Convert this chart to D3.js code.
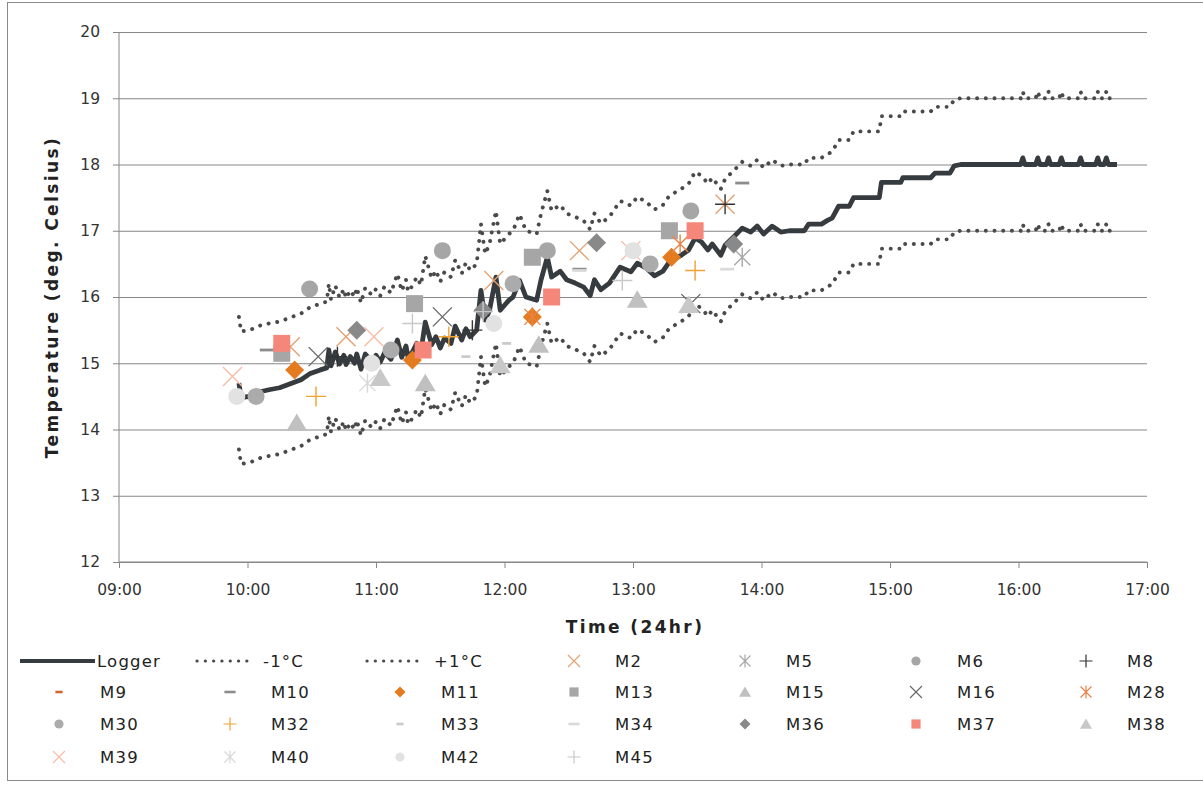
<!DOCTYPE html>
<html><head><meta charset="utf-8">
<script src="https://cdn.jsdelivr.net/npm/d3@7"></script>
<style>
html,body{margin:0;padding:0;background:#fff;}
svg{display:block;font-family:"DejaVu Sans",Verdana,sans-serif;}
</style></head><body>
<svg id="chart" width="1203" height="785"></svg>
<script>
// ---------------- DATA ----------------
const xTickLabels = ["09:00","10:00","11:00","12:00","13:00","14:00","15:00","16:00","17:00"];
const yTickValues = [12,13,14,15,16,17,18,19,20];

const loggerTimes = [
 "09:56","09:57","10:01","10:06","10:10","10:15","10:20","10:25","10:29","10:34",
 "10:37","10:38","10:39","10:41","10:43","10:45","10:46","10:48","10:50","10:51",
 "10:53","10:55","10:58","11:00","11:02","11:04","11:07","11:10","11:12","11:14",
 "11:15","11:17","11:19","11:21","11:23","11:26","11:28","11:30","11:32","11:35",
 "11:37","11:40","11:42","11:44","11:47","11:49","11:51","11:53","11:56","11:58",
 "12:02","12:04","12:07","12:10","12:15","12:17","12:20","12:22","12:26","12:29",
 "12:33","12:37","12:40","12:42","12:45","12:49","12:54","12:59","13:02","13:06",
 "13:10","13:14","13:17","13:22","13:26","13:29","13:32","13:35","13:37","13:41",
 "13:43","13:48","13:51","13:55","13:58","14:01","14:05","14:09","14:13","14:20",
 "14:22","14:28","14:31","14:33","14:36","14:41","14:43","14:55","14:56","15:05",
 "15:06","15:19","15:21","15:28","15:30","15:33","16:01","16:02","16:03","16:08",
 "16:09","16:10","16:13","16:14","16:15","16:19","16:20","16:21","16:28","16:29",
 "16:30","16:36","16:37","16:38","16:40","16:41","16:42","16:46"];
const loggerTemp = [
 14.70,14.48,14.50,14.57,14.60,14.63,14.69,14.75,14.84,14.90,
 14.93,15.20,14.96,15.17,14.99,15.12,14.98,15.10,15.00,15.14,
 14.91,15.14,15.03,15.12,15.02,15.16,15.06,15.35,15.09,15.26,
 15.08,15.17,15.30,15.18,15.62,15.28,15.40,15.23,15.38,15.30,
 15.56,15.35,15.52,15.40,15.50,16.10,15.65,15.80,16.30,15.80,
 15.95,16.00,16.25,16.00,15.95,16.25,16.60,16.30,16.39,16.26,
 16.21,16.15,16.02,16.26,16.11,16.21,16.45,16.38,16.51,16.44,
 16.32,16.39,16.53,16.62,16.71,16.89,16.83,16.71,16.80,16.63,
 16.78,16.94,17.04,16.98,17.07,16.95,17.07,16.98,17.00,17.00,
 17.10,17.10,17.16,17.19,17.37,17.37,17.50,17.50,17.73,17.73,
 17.80,17.80,17.87,17.87,17.98,18.00,18.00,18.10,18.00,18.00,
 18.10,18.00,18.00,18.10,18.00,18.00,18.10,18.00,18.00,18.10,
 18.00,18.00,18.10,18.00,18.00,18.10,18.00,18.00];
const minus1Temp = [
 13.70,13.48,13.50,13.57,13.60,13.63,13.69,13.75,13.84,13.90,
 13.93,14.20,13.96,14.17,13.99,14.12,13.98,14.10,14.00,14.14,
 13.91,14.14,14.03,14.12,14.02,14.16,14.06,14.35,14.09,14.26,
 14.08,14.17,14.30,14.18,14.62,14.28,14.40,14.23,14.38,14.30,
 14.56,14.35,14.52,14.40,14.50,15.10,14.65,14.80,15.30,14.80,
 14.95,15.00,15.25,15.00,14.95,15.25,15.60,15.30,15.39,15.26,
 15.21,15.15,15.02,15.26,15.11,15.21,15.45,15.38,15.51,15.44,
 15.32,15.39,15.53,15.62,15.71,15.89,15.83,15.71,15.80,15.63,
 15.78,15.94,16.04,15.98,16.07,15.95,16.07,15.98,16.00,16.00,
 16.10,16.10,16.16,16.19,16.37,16.37,16.50,16.50,16.73,16.73,
 16.80,16.80,16.87,16.87,16.98,17.00,17.00,17.10,17.00,17.00,
 17.10,17.00,17.00,17.10,17.00,17.00,17.10,17.00,17.00,17.10,
 17.00,17.00,17.10,17.00,17.00,17.10,17.00,17.00];
const plus1Temp = [
 15.70,15.48,15.50,15.57,15.60,15.63,15.69,15.75,15.84,15.90,
 15.93,16.20,15.96,16.17,15.99,16.12,15.98,16.10,16.00,16.14,
 15.91,16.14,16.03,16.12,16.02,16.16,16.06,16.35,16.09,16.26,
 16.08,16.17,16.30,16.18,16.62,16.28,16.40,16.23,16.38,16.30,
 16.56,16.35,16.52,16.40,16.50,17.10,16.65,16.80,17.30,16.80,
 16.95,17.00,17.25,17.00,16.95,17.25,17.60,17.30,17.39,17.26,
 17.21,17.15,17.02,17.26,17.11,17.21,17.45,17.38,17.51,17.44,
 17.32,17.39,17.53,17.62,17.71,17.89,17.83,17.71,17.80,17.63,
 17.78,17.94,18.04,17.98,18.07,17.95,18.07,17.98,18.00,18.00,
 18.10,18.10,18.16,18.19,18.37,18.37,18.50,18.50,18.73,18.73,
 18.80,18.80,18.87,18.87,18.98,19.00,19.00,19.10,19.00,19.00,
 19.10,19.00,19.00,19.10,19.00,19.00,19.10,19.00,19.00,19.10,
 19.00,19.00,19.10,19.00,19.00,19.10,19.00,19.00];

// measurement readings: [time, temperature]
const m2  = [["10:20",15.25],["10:46",15.40],["11:55",16.25],["12:35",16.70],["13:43",17.40]];
const m5  = [["13:51",16.60]];
const m6  = [["10:29",16.12],["11:31",16.70],["12:20",16.70],["13:27",17.30]];
const m8  = [["10:42",15.10],["11:45",15.50],["13:43",17.40]];
const m9  = [["10:04",14.50],["11:07",15.20],["12:04",16.20],["13:08",16.50]];
const m10 = [["10:09",15.20],["12:35",16.42],["13:51",17.72]];
const m11 = [["10:22",14.90],["11:17",15.05],["12:13",15.70],["13:18",16.60]];
const m13 = [["10:16",15.15],["11:18",15.90],["12:13",16.60],["13:17",17.00]];
const m15 = [["10:23",14.10],["11:23",14.70],["12:16",15.28],["13:02",15.96]];
const m16 = [["10:33",15.10],["11:31",15.70],["13:27",15.90]];
const m28 = [["12:13",15.70],["13:22",16.80]];
const m30 = [["10:04",14.50],["11:07",15.20],["12:04",16.20],["13:08",16.50]];
const m32 = [["10:32",14.50],["11:34",15.40],["13:29",16.40]];
const m33 = [["11:42",15.10],["12:01",15.30]];
const m34 = [["12:35",16.40],["13:44",16.42]];
const m36 = [["10:51",15.50],["11:50",15.80],["12:43",16.82],["13:47",16.80]];
const m37 = [["10:16",15.30],["11:22",15.20],["12:22",16.00],["13:29",17.00]];
const m38 = [["11:02",14.78],["11:58",14.97],["13:26",15.88]];
const m39 = [["09:53",14.80],["10:59",15.40],["12:59",16.70]];
const m40 = [["10:56",14.70]];
const m42 = [["09:55",14.50],["10:58",15.00],["11:55",15.60],["13:00",16.70]];
const m45 = [["11:17",15.60],["11:50",15.78],["12:55",16.25]];

// ---------------- STYLE TABLE ----------------
const measureSeries = [
 {name:"M2",  data:m2,  shape:"x",        color:"#e3a274"},
 {name:"M5",  data:m5,  shape:"asterisk", color:"#a8a8a8"},
 {name:"M6",  data:m6,  shape:"circle",   color:"#a6a6a6"},
 {name:"M8",  data:m8,  shape:"plus",     color:"#333333"},
 {name:"M9",  data:m9,  shape:"dashS",    color:"#d2642e"},
 {name:"M10", data:m10, shape:"dashL",    color:"#8c8c8c"},
 {name:"M11", data:m11, shape:"diamond",  color:"#e47c1f"},
 {name:"M13", data:m13, shape:"square",   color:"#a6a6a6"},
 {name:"M15", data:m15, shape:"triangle", color:"#c0c0c0"},
 {name:"M16", data:m16, shape:"x",        color:"#686868"},
 {name:"M28", data:m28, shape:"asterisk", color:"#e88449"},
 {name:"M30", data:m30, shape:"circle",   color:"#ababab"},
 {name:"M32", data:m32, shape:"plus",     color:"#f0a232"},
 {name:"M33", data:m33, shape:"dashS",    color:"#cacaca"},
 {name:"M34", data:m34, shape:"dashL",    color:"#dadada"},
 {name:"M36", data:m36, shape:"diamond",  color:"#898989"},
 {name:"M37", data:m37, shape:"square",   color:"#f4877a"},
 {name:"M38", data:m38, shape:"triangle", color:"#c8c8c8"},
 {name:"M39", data:m39, shape:"x",        color:"#f7bda8"},
 {name:"M40", data:m40, shape:"asterisk", color:"#d8d8d8"},
 {name:"M42", data:m42, shape:"circle",   color:"#e2e2e2"},
 {name:"M45", data:m45, shape:"plus",     color:"#c8c8c8"}
];

// ---------------- CHART ----------------
const svg = d3.select("#chart");
const parseT = d3.timeParse("%H:%M");
const margin = {left:119, right:1147, top:32, bottom:562};

const x = d3.scaleTime().domain([parseT("09:00"), parseT("17:00")]).range([margin.left, margin.right]);
const y = d3.scaleLinear().domain([12,20]).range([margin.bottom, margin.top]);

// chart border
svg.append("rect").attr("x",7.5).attr("y",2.5).attr("width",1200).attr("height",778)
  .attr("fill","none").attr("stroke","#8a8a8a").attr("stroke-width",1);

// gridlines
svg.append("g").attr("transform",`translate(${margin.left},0)`)
  .call(d3.axisLeft(y).tickValues(yTickValues).tickSize(-(margin.right-margin.left)).tickFormat(""))
  .call(g=>g.select(".domain").remove())
  .call(g=>g.selectAll("line").attr("stroke","#878787").attr("stroke-width",1));

// y axis
const yAxis = svg.append("g").attr("transform",`translate(${margin.left},0)`)
  .call(d3.axisLeft(y).tickValues(yTickValues).tickSize(6).tickPadding(13).tickFormat(d3.format("d")));
yAxis.select(".domain").attr("stroke","#878787").attr("d",`M0,${margin.top}V${margin.bottom}`);
yAxis.selectAll("line").attr("stroke","#878787");
yAxis.selectAll("text").attr("font-size",15.5).attr("fill","#333").attr("font-family","DejaVu Sans");

// x axis
const xAxis = svg.append("g").attr("transform",`translate(0,${margin.bottom})`)
  .call(d3.axisBottom(x).tickValues(xTickLabels.map(parseT)).tickSize(6).tickPadding(16).tickFormat(d3.timeFormat("%H:%M")));
xAxis.select(".domain").attr("stroke","#878787").attr("d",`M${margin.left},0H${margin.right}`);
xAxis.selectAll("line").attr("stroke","#878787");
xAxis.selectAll("text").attr("font-size",15.5).attr("fill","#333").attr("font-family","DejaVu Sans");

// axis titles
svg.append("text").attr("x",635).attr("y",633).attr("text-anchor","middle")
  .attr("font-size",17).attr("font-weight","bold").attr("letter-spacing",2.4).attr("fill","#222")
  .text("Time (24hr)");
svg.append("text").attr("transform","translate(58,297) rotate(-90)").attr("text-anchor","middle")
  .attr("font-size",17).attr("font-weight","bold").attr("letter-spacing",2.4).attr("fill","#222")
  .text("Temperature (deg. Celsius)");

// lines
const loggerData = loggerTimes.map((t,i)=>({t:parseT(t), v:loggerTemp[i]}));
const minusData = loggerTimes.map((t,i)=>({t:parseT(t), v:minus1Temp[i]}));
const plusData  = loggerTimes.map((t,i)=>({t:parseT(t), v:plus1Temp[i]}));
const line = d3.line().x(d=>x(d.t)).y(d=>y(d.v));

const dotStyle = sel => sel.attr("fill","none").attr("stroke","#4a4a4a").attr("stroke-width",3.9)
  .attr("stroke-linecap","round").attr("stroke-dasharray","0.1,8.6");

svg.append("path").datum(loggerData).attr("d",line).attr("fill","none")
  .attr("stroke","#363b3f").attr("stroke-width",4.8).attr("stroke-linejoin","round");
svg.append("path").datum(minusData).attr("d",line).call(dotStyle);
svg.append("path").datum(plusData).attr("d",line).call(dotStyle);

// marker shapes
function markerPath(shape, s){
  switch(shape){
    case "x": return `M${-s},${-s}L${s},${s}M${-s},${s}L${s},${-s}`;
    case "plus": return `M${-s},0H${s}M0,${-s}V${s}`;
    case "asterisk": return `M${-s},${-s}L${s},${s}M${-s},${s}L${s},${-s}M0,${-s*1.2}V${s*1.2}`;
    case "circle": return `M${s},0A${s},${s} 0 1,1 ${-s},0A${s},${s} 0 1,1 ${s},0Z`;
    case "square": return `M${-s},${-s}H${s}V${s}H${-s}Z`;
    case "diamond": return `M0,${-s}L${s},0L0,${s}L${-s},0Z`;
    case "triangle": return `M0,${-s}L${s*1.1},${s*0.85}H${-s*1.1}Z`;
    case "dashS": return `M${-s*0.45},0H${s*0.45}`;
    case "dashL": return `M${-s*0.7},0H${s*0.7}`;
  }
}
const plotSize = {x:9.5, plus:10, asterisk:8, circle:8.5, square:8.5, diamond:9.5, triangle:9.5, dashS:10, dashL:10};
const legSize  = {x:6, plus:6.5, asterisk:5.5, circle:4.6, square:4.6, diamond:5.5, triangle:5.5, dashS:8, dashL:8};
const isStroke = s => ["x","plus","asterisk","dashS","dashL"].includes(s);
function styleMarker(sel, shape, color, legend){
  if(isStroke(shape)){
    const w = shape.startsWith("dash") ? (legend?2.6:2.8) : (legend?1.2:1.4);
    sel.attr("fill","none").attr("stroke",color).attr("stroke-width",w);
  } else sel.attr("fill",color).attr("stroke","none");
}

const markerLayer = svg.append("g");
measureSeries.forEach(s=>{
  markerLayer.selectAll(null).data(s.data).enter().append("path")
    .attr("transform",d=>`translate(${x(parseT(d[0]))},${y(d[1])})`)
    .attr("d",markerPath(s.shape, plotSize[s.shape]))
    .call(sel=>styleMarker(sel, s.shape, s.color, false));
});

// ---------------- LEGEND ----------------
const leg = svg.append("g").attr("font-size",16.5).attr("fill","#222").attr("letter-spacing",1.2);
const rowY = [661, 692, 724, 757];
const colMarkX = [59, 230, 400, 574, 745, 916, 1086];
const labelGap = 41;
// row 1: lines
leg.append("line").attr("x1",20).attr("x2",95).attr("y1",rowY[0]).attr("y2",rowY[0])
  .attr("stroke","#363b3f").attr("stroke-width",4.2);
leg.append("text").attr("x",97).attr("y",rowY[0]).attr("dy","0.36em").text("Logger");
leg.append("line").attr("x1",197).attr("x2",255).attr("y1",rowY[0]).attr("y2",rowY[0]).call(dotStyle).attr("stroke-width",3.2).attr("stroke-dasharray","0.1,8.2");
leg.append("text").attr("x",263).attr("y",rowY[0]).attr("dy","0.36em").text("-1°C");
leg.append("line").attr("x1",367).attr("x2",425).attr("y1",rowY[0]).attr("y2",rowY[0]).call(dotStyle).attr("stroke-width",3.2).attr("stroke-dasharray","0.1,8.2");
leg.append("text").attr("x",434).attr("y",rowY[0]).attr("dy","0.36em").text("+1°C");

measureSeries.forEach((s,i)=>{
  const slot = i + 3;
  const r = Math.floor(slot/7), c = slot % 7;
  const mx = colMarkX[c], my = rowY[r];
  leg.append("path").attr("transform",`translate(${mx},${my})`)
    .attr("d",markerPath(s.shape, legSize[s.shape]))
    .call(sel=>styleMarker(sel, s.shape, s.color, true));
  leg.append("text").attr("x",mx+labelGap).attr("y",my).attr("dy","0.36em").text(s.name);
});
</script>
</body></html>
